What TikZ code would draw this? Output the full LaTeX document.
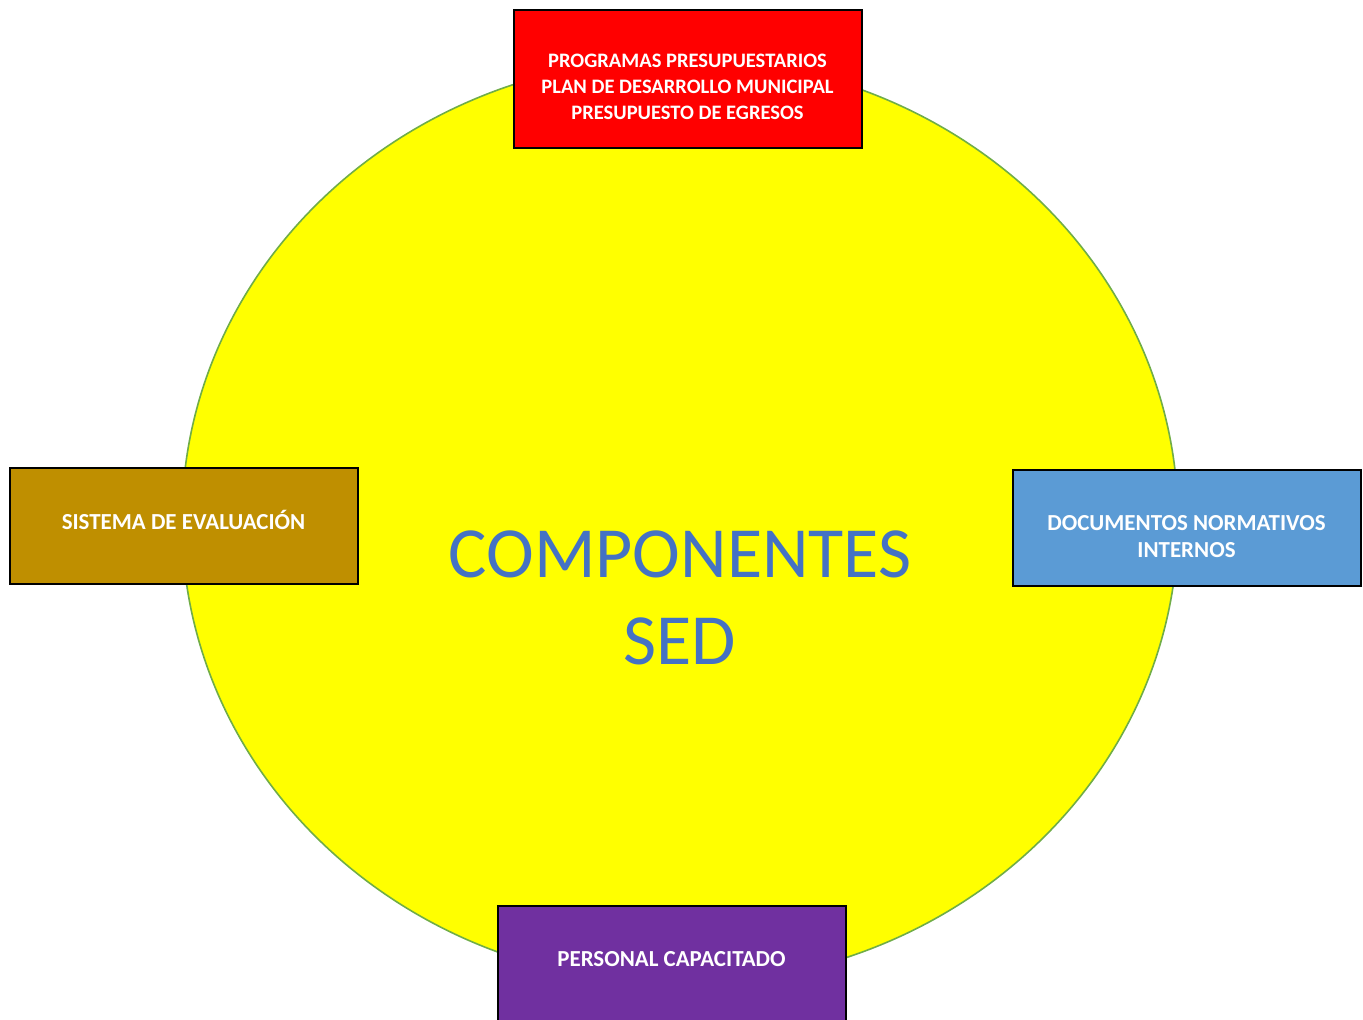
\documentclass[tikz,border=0pt]{standalone}
\usepackage{fontspec}
\setmainfont{Carlito}
\definecolor{cyel}{HTML}{FFFF00}
\definecolor{cgreen}{HTML}{70AD47}
\definecolor{cred}{HTML}{FF0000}
\definecolor{cbrown}{HTML}{BF8F00}
\definecolor{cblue}{HTML}{5B9BD5}
\definecolor{cpurple}{HTML}{7030A0}
\definecolor{ctitle}{HTML}{4472C4}
\begin{document}
\begin{tikzpicture}[x=0.75pt,y=-0.75pt,
  compbox/.style={draw=black, line width=1.5pt, minimum width=261pt, minimum height=87pt, inner sep=0pt},
  boxtext/.style={text=white, align=center, inner sep=0pt, font=\bfseries\fontsize{17.2}{20.3}\selectfont},
  smalltext/.style={boxtext, font=\bfseries\fontsize{15.4}{19.6}\selectfont},
  titletext/.style={text=ctitle, align=center, font=\fontsize{54}{65}\selectfont}]
\useasboundingbox (0,0) rectangle (1363,1020);
\fill[white] (0,0) rectangle (1363,1020);
\draw[fill=cyel, draw=cgreen, line width=1.2pt] (680,521) ellipse [x radius=498, y radius=463];
\node[titletext] (title) at (680,598) {COMPONENTES\\SED};
\node[compbox, fill=cred, minimum height=103.5pt] (prog) at (687.5,79) {};
\node[compbox, fill=cbrown] (eval) at (183.5,526) {};
\node[compbox, fill=cblue] (docs) at (1186.5,528) {};
\node[compbox, fill=cpurple] (pers) at (671.5,964) {};
\node[smalltext] (progtxt) at (687.5,87) {PROGRAMAS PRESUPUESTARIOS\\PLAN DE DESARROLLO MUNICIPAL\\PRESUPUESTO DE EGRESOS};
\node[boxtext] (evaltxt) at (183.5,520) {SISTEMA DE EVALUACIÓN};
\node[boxtext] (docstxt) at (1186.5,537) {DOCUMENTOS NORMATIVOS\\INTERNOS};
\node[boxtext] (perstxt) at (671.5,959) {PERSONAL CAPACITADO};
\end{tikzpicture}
\end{document}
